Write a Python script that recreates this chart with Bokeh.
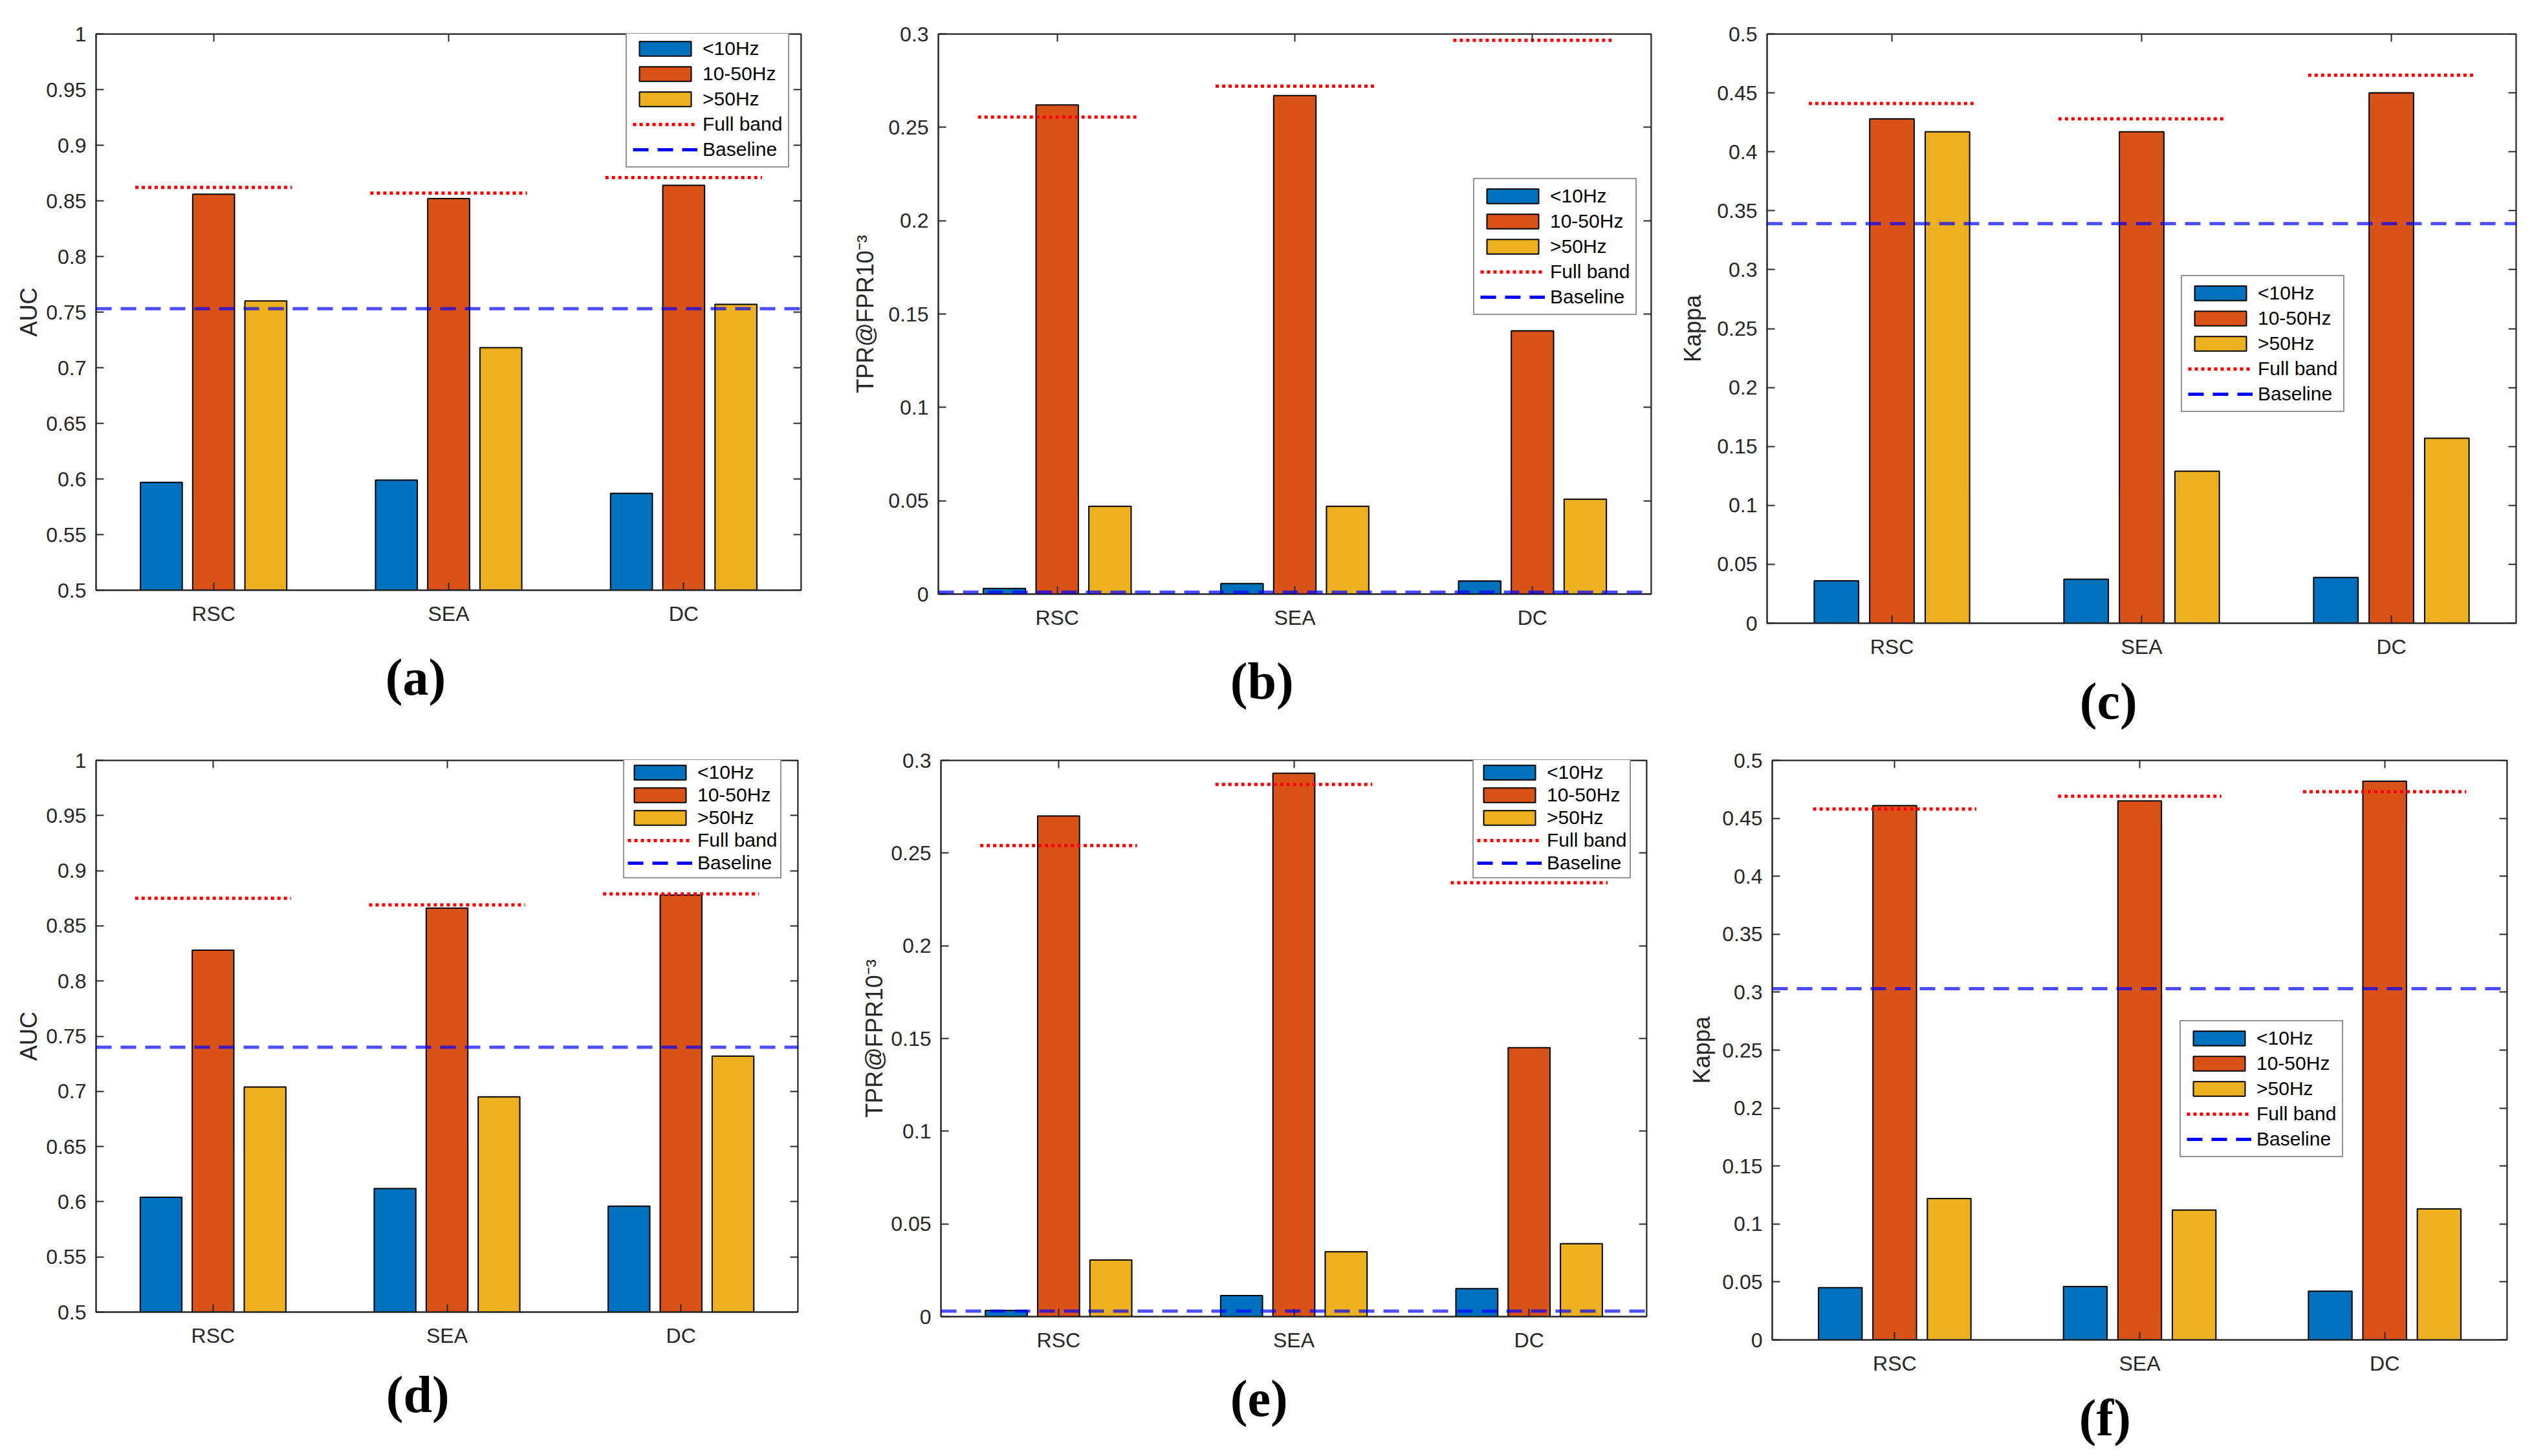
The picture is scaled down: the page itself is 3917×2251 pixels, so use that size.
import numpy as np
from bokeh.plotting import figure
from bokeh.models import (FixedTicker, LinearAxis, Range1d, Span, Legend,
                          LegendItem, Title, ColumnDataSource)
from bokeh.layouts import column, row
from bokeh.embed import file_html
from bokeh.resources import INLINE

# ---------------- data ----------------
categories = ["RSC", "SEA", "DC"]
series_names = ["<10Hz", "10-50Hz", ">50Hz"]

# (a) AUC, top row
a_low = [0.597, 0.599, 0.587]
a_mid = [0.856, 0.852, 0.864]
a_high = [0.760, 0.718, 0.757]
a_full = [0.862, 0.857, 0.871]
a_base = 0.753

# (b) TPR@FPR1e-3, top row
b_low = [0.003, 0.0056, 0.007]
b_mid = [0.262, 0.267, 0.141]
b_high = [0.047, 0.047, 0.0508]
b_full = [0.2555, 0.272, 0.2966]
b_base = 0.001

# (c) Kappa, top row
c_low = [0.036, 0.0373, 0.0388]
c_mid = [0.428, 0.417, 0.450]
c_high = [0.417, 0.129, 0.157]
c_full = [0.441, 0.428, 0.465]
c_base = 0.339

# (d) AUC, bottom row
d_low = [0.604, 0.612, 0.596]
d_mid = [0.828, 0.866, 0.878]
d_high = [0.704, 0.695, 0.732]
d_full = [0.875, 0.869, 0.879]
d_base = 0.740

# (e) TPR@FPR1e-3, bottom row
e_low = [0.0033, 0.0113, 0.0151]
e_mid = [0.270, 0.293, 0.145]
e_high = [0.0305, 0.035, 0.0393]
e_full = [0.254, 0.287, 0.234]
e_base = 0.003

# (f) Kappa, bottom row
f_low = [0.045, 0.046, 0.042]
f_mid = [0.461, 0.465, 0.482]
f_high = [0.122, 0.112, 0.113]
f_full = [0.458, 0.469, 0.473]
f_base = 0.303

auc_ticks = [0.5, 0.55, 0.6, 0.65, 0.7, 0.75, 0.8, 0.85, 0.9, 0.95, 1.0]
tpr_ticks = [0, 0.05, 0.1, 0.15, 0.2, 0.25, 0.3]
kappa_ticks = [0, 0.05, 0.1, 0.15, 0.2, 0.25, 0.3, 0.35, 0.4, 0.45, 0.5]

auc_label = "AUC"
tpr_label = "TPR@FPR10\u207b\u00b3"
kappa_label = "Kappa"
panel_letters = ["(a)", "(b)", "(c)", "(d)", "(e)", "(f)"]

# ---------------- style ----------------
BAR_COLORS = ["#0072BD", "#D95319", "#EDB120"]
AX = "#262626"
FONT = "Liberation Sans"
SERIF = "Liberation Serif"
TICK_FS = "32px"
LABEL_FS = "36px"
LEG_FS = "30px"
LETTER_FS = 80
HAS_STANDOFF = "standoff" in Title.properties()


def make_panel(letter, low, mid, high, full, base, ticks, ylabel,
               frame, borders, legend_loc, letter_pos, ylab_standoff,
               compact_legend=False):
    fw, fh = frame
    bl, br, bt, bb = borders
    y0, y1 = ticks[0], ticks[-1]
    xr = Range1d(0.5, len(categories) + 0.5)
    yr = Range1d(y0, y1)
    p = figure(frame_width=fw, frame_height=fh,
               min_border_left=bl, min_border_right=br,
               min_border_top=bt, min_border_bottom=bb,
               x_range=xr, y_range=yr,
               output_backend="svg", toolbar_location=None, tools="",
               background_fill_color="white", border_fill_color="white")
    p.xgrid.visible = False
    p.ygrid.visible = False
    p.outline_line_color = AX
    p.outline_line_width = 2

    idx = np.arange(1, len(categories) + 1)
    offsets = [-2 / 9, 0.0, 2 / 9]
    bar_w = 0.178
    renderers = []
    for vals, off, col in zip([low, mid, high], offsets, BAR_COLORS):
        src = ColumnDataSource(dict(x=idx + off, top=vals))
        r = p.vbar(x="x", top="top", bottom=y0, width=bar_w, source=src,
                   fill_color=col, line_color="black", line_width=2)
        renderers.append(r)

    fsrc = ColumnDataSource(dict(x0=idx - 1 / 3, x1=idx + 1 / 3, y=full))
    rf = p.segment(x0="x0", x1="x1", y0="y", y1="y", source=fsrc,
                   line_color="#FF0000", line_width=5, line_dash="5 5")
    span = Span(location=base, dimension="width", line_color="#0000FF",
                line_alpha=0.7, line_width=5, line_dash="24 14")
    p.add_layout(span)
    # single-point line: draws nothing itself, only provides the legend glyph
    rb = p.line(x=[xr.start], y=[base], line_color="#0000FF", line_width=5,
                line_dash="24 14")

    for ax in [p.xaxis[0], p.yaxis[0]]:
        ax.axis_line_color = AX
        ax.axis_line_width = 2
        ax.major_tick_line_color = AX
        ax.major_tick_line_width = 2
        ax.major_tick_in = 12
        ax.major_tick_out = 0
        ax.minor_tick_line_color = None
        ax.major_label_text_font = FONT
        ax.major_label_text_font_size = TICK_FS
        ax.major_label_text_color = AX
    p.xaxis.ticker = FixedTicker(ticks=list(idx))
    p.xaxis.major_label_overrides = {int(i): c for i, c in zip(idx, categories)}
    p.xaxis.major_label_standoff = 18
    p.yaxis.ticker = FixedTicker(ticks=ticks)
    p.yaxis.major_label_overrides = {t: f"{t:g}" for t in ticks}
    p.yaxis.major_label_standoff = 15
    p.yaxis.axis_label = ylabel
    p.yaxis.axis_label_text_font = FONT
    p.yaxis.axis_label_text_font_size = LABEL_FS
    p.yaxis.axis_label_text_font_style = "normal"
    p.yaxis.axis_label_text_color = AX
    p.yaxis.axis_label_standoff = ylab_standoff

    # mirrored tick axes (right / top), pinned to the frame edge, no labels
    for loc, tk, fixed in [("right", ticks, xr.end), ("above", list(idx), yr.end)]:
        ax = LinearAxis(ticker=FixedTicker(ticks=tk), fixed_location=fixed)
        ax.axis_line_color = AX
        ax.axis_line_width = 2
        ax.major_tick_line_color = AX
        ax.major_tick_line_width = 2
        ax.major_tick_in = 12
        ax.major_tick_out = 0
        ax.minor_tick_line_color = None
        ax.major_label_text_font_size = "0px"
        ax.major_label_text_color = None
        ax.major_label_standoff = 0
        p.add_layout(ax, loc)

    items = [LegendItem(label=n, renderers=[r]) for n, r in zip(series_names, renderers)]
    items.append(LegendItem(label="Full band", renderers=[rf]))
    items.append(LegendItem(label="Baseline", renderers=[rb]))
    leg = Legend(items=items, location=legend_loc,
                 label_text_font=FONT, label_text_font_size=LEG_FS,
                 label_text_color="black",
                 glyph_width=100, glyph_height=28, label_standoff=8,
                 label_height=28,
                 spacing=1 if compact_legend else 5,
                 padding=5 if compact_legend else 9, margin=0,
                 border_line_color=AX, border_line_width=2,
                 background_fill_color="white", background_fill_alpha=1.0)
    p.add_layout(leg)

    # panel letter below the x axis
    text_w = 1.166 * LETTER_FS
    tkw = dict(text=letter, align="left", offset=letter_pos[0] - text_w / 2 + 8,
               text_font=SERIF, text_font_style="bold",
               text_font_size=f"{LETTER_FS}px", text_color="black")
    if HAS_STANDOFF:
        tkw["standoff"] = letter_pos[1]
    p.add_layout(Title(**tkw), "below")
    return p


# row 1: page y 8 .. 1140
pa = make_panel(panel_letters[0], a_low, a_mid, a_high, a_full, a_base, auc_ticks, auc_label,
                (1090, 860), (148, 49, 52, 220), (819, 653), (486, 62), 3)
pb = make_panel(panel_letters[1], b_low, b_mid, b_high, b_full, b_base, tpr_ticks, tpr_label,
                (1102, 866), (163, 30, 45, 221), (827, 431), (490, 63), 12)
pc = make_panel(panel_letters[2], c_low, c_mid, c_high, c_full, c_base, kappa_ticks, kappa_label,
                (1158, 911), (149, 12, 28, 193), (640, 326), (522, 35), 14)
# row 2: page y 1140 .. 2243
pd = make_panel(panel_letters[3], d_low, d_mid, d_high, d_full, d_base, auc_ticks, auc_label,
                (1085, 853), (148, 54, 43, 207), (815, 670), (487, 49), 3, True)
pe = make_panel(panel_letters[4], e_low, e_mid, e_high, e_full, e_base, tpr_ticks, tpr_label,
                (1091, 860), (167, 37, 39, 204), (822, 677), (486, 46), 2, True)
pf = make_panel(panel_letters[5], f_low, f_mid, f_high, f_full, f_base, kappa_ticks, kappa_label,
                (1136, 896), (157, 26, 15, 192), (630, 282), (513, 34), 8)

layout = column(row(pa, pb, pc), row(pd, pe, pf))
open("out.html", "w").write(file_html(layout, INLINE))
